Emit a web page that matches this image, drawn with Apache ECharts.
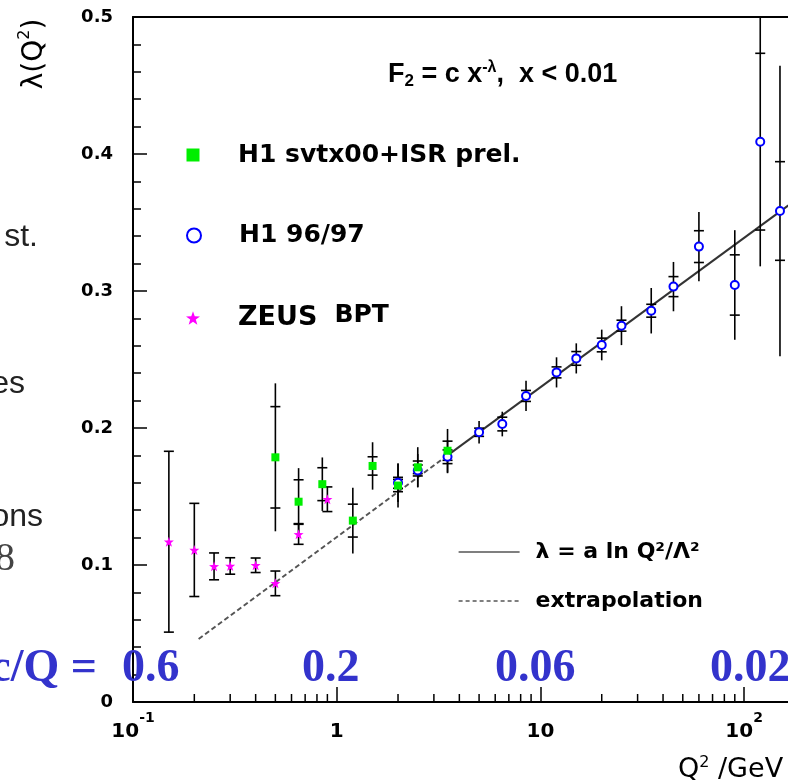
<!DOCTYPE html>
<html><head><meta charset="utf-8">
<script src="https://cdn.jsdelivr.net/npm/echarts@6/dist/echarts.min.js"></script>
<style>html,body{margin:0;padding:0;background:#fff;overflow:hidden}#c{width:788px;height:783px}</style>
</head><body><div id="c"></div>
<script>
// ---------- data ----------
const zeusQ2     = [0.15, 0.2, 0.25, 0.3, 0.4, 0.5, 0.65, 0.9];
const zeusLambda = [0.117, 0.111, 0.099, 0.0993, 0.0998, 0.0866, 0.1224, 0.148];
const zeusErr    = [0.066, 0.034, 0.0098, 0.006, 0.0053, 0.009, 0.0073, 0.009];

const svtxQ2     = [0.5, 0.65, 0.85, 1.2, 1.5, 2.0, 2.5, 3.5];
const svtxLambda = [0.1786, 0.1462, 0.159, 0.1324, 0.1723, 0.158, 0.1713, 0.1834];
const svtxStat   = [0.037, 0.016, 0.012, 0.012, 0.0067, 0.0045, 0.0046, 0.007];
const svtxTot    = [0.054, 0.0245, 0.0195, 0.024, 0.0173, 0.016, 0.0147, 0.0159];

const h1Q2     = [2.0, 2.5, 3.5, 5, 6.5, 8.5, 12, 15, 20, 25, 35, 45, 60, 90, 120, 150];
const h1Lambda = [0.160, 0.169, 0.179, 0.1969, 0.2029, 0.2234, 0.2406, 0.2508, 0.2606, 0.2747, 0.2856, 0.3032, 0.3324, 0.3044, 0.409, 0.3584];
const h1Stat   = [0.004, 0.004, 0.005, 0.003, 0.005, 0.004, 0.004, 0.005, 0.005, 0.004, 0.0047, 0.0073, 0.0116, 0.022, 0.0645, 0.036];
const h1Tot    = [0.014, 0.012, 0.012, 0.0082, 0.009, 0.011, 0.011, 0.011, 0.0112, 0.0142, 0.0166, 0.018, 0.0252, 0.040, 0.091, 0.106];

const fitQ2 = [3.5, 165];
const fitLambda = [0.180, 0.3625];
const extrapQ2 = [0.21, 3.5];
const extrapLambda = [0.046, 0.180];

const xMinorTicks = [0.2,0.3,0.4,0.5,0.6,0.7,0.8,0.9, 2,3,4,5,6,7,8,9, 20,30,40,50,60,70,80,90, 200];
const xLabelText = {'0.1': '{b|10}{s|-1}', '1': '{b|1}', '10': '{b|10}', '100': '{b|10}{s|2}'};

const nameSvtx = 'H1 svtx00+ISR prel.';
const nameH1 = 'H1 96/97';
const nameZeus = 'ZEUS BPT';
const nameFit = 'λ = a ln Q²/Λ²';
const nameExtrap = 'extrapolation';

// ---------- helpers ----------
const zip = (...arrs) => arrs[0].map((_, i) => arrs.map(a => a[i]));
const BLUE_TXT = '#3333cc';
const STAR = 'path://M0,-10L2.35,-3.24L9.51,-3.09L3.8,1.24L5.88,8.09L0,4L-5.88,8.09L-3.8,1.24L-9.51,-3.09L-2.35,-3.24Z';

function h1ErrRender(params, api) {
  const x = api.value(0), y = api.value(1), st = api.value(2), tot = api.value(3);
  const t = api.coord([x, y + tot]), b = api.coord([x, y - tot]);
  const st1 = api.coord([x, y + st]), st2 = api.coord([x, y - st]);
  const hw = 5, style = {stroke: '#000', lineWidth: 1.6};
  return {type: 'group', children: [
    {type: 'line', shape: {x1: t[0], y1: t[1], x2: b[0], y2: b[1]}, style},
    {type: 'line', shape: {x1: st1[0] - hw, y1: st1[1], x2: st1[0] + hw, y2: st1[1]}, style},
    {type: 'line', shape: {x1: st2[0] - hw, y1: st2[1], x2: st2[0] + hw, y2: st2[1]}, style}
  ]};
}
function zeusErrRender(params, api) {
  const x = api.value(0), y = api.value(1), e = api.value(2);
  const t = api.coord([x, y + e]), b = api.coord([x, y - e]);
  const hw = 5, style = {stroke: '#000', lineWidth: 1.6};
  return {type: 'group', children: [
    {type: 'line', shape: {x1: t[0], y1: t[1], x2: b[0], y2: b[1]}, style},
    {type: 'line', shape: {x1: t[0] - hw, y1: t[1], x2: t[0] + hw, y2: t[1]}, style},
    {type: 'line', shape: {x1: b[0] - hw, y1: b[1], x2: b[0] + hw, y2: b[1]}, style}
  ]};
}
function minorTickRender(params, api) {
  const p = api.coord([api.value(0), 0]);
  return {type: 'line', shape: {x1: p[0], y1: p[1], x2: p[0], y2: p[1] - 8}, style: {stroke: '#000', lineWidth: 1.5}};
}

const legTxt = {fontFamily: 'DejaVu Sans', fontWeight: 'bold', fontSize: 25, color: '#000'};

const chart = echarts.init(document.getElementById('c'), null, {renderer: 'canvas'});
chart.setOption({
  animation: false,
  backgroundColor: '#fff',
  grid: {left: 133, top: 17, width: 675, height: 685, containLabel: false, outerBoundsMode: 'none'},
  xAxis: [{
    type: 'log', logBase: 10, min: 0.1, max: 205.9,
    axisLine: {lineStyle: {color: '#000', width: 2}},
    axisTick: {inside: true, length: 15, lineStyle: {color: '#000', width: 1.5}},
    splitLine: {show: false},
    axisLabel: {
      margin: 9, color: '#000', align: 'center',
      formatter: v => { const k = String(+v.toPrecision(6)); return xLabelText[k] || ''; },
      rich: {
        b: {fontFamily: 'DejaVu Sans', fontWeight: 'bold', fontSize: 20, lineHeight: 42, color: '#000'},
        s: {fontFamily: 'DejaVu Sans', fontWeight: 'bold', fontSize: 14, lineHeight: 12, verticalAlign: 'top', color: '#000'}
      }
    }
  }, {
    type: 'log', logBase: 10, min: 0.1, max: 205.9, position: 'top',
    axisLine: {lineStyle: {color: '#000', width: 2}},
    axisTick: {show: false}, axisLabel: {show: false}, splitLine: {show: false}
  }],
  yAxis: {
    type: 'value', min: 0, max: 0.5, interval: 0.1,
    axisLine: {show: true, lineStyle: {color: '#000', width: 2}},
    axisTick: {inside: true, length: 14, lineStyle: {color: '#000', width: 1.5}},
    minorTick: {show: true, splitNumber: 5, length: 8, lineStyle: {color: '#000', width: 1.5}},
    splitLine: {show: false},
    axisLabel: {
      margin: 20, color: '#000', fontFamily: 'DejaVu Sans', fontWeight: 'bold', fontSize: 18,
      formatter: v => v === 0 ? '0' : v.toFixed(1)
    }
  },
  legend: [
    {data: [nameSvtx], left: 186.5, top: 142.5, padding: 0, itemWidth: 13, itemHeight: 13, selectedMode: false,
     textStyle: Object.assign({padding: [0, 0, 0, 33.5]}, legTxt)},
    {data: [nameH1], left: 186, top: 223, padding: 0, itemWidth: 14, itemHeight: 14, selectedMode: false,
     textStyle: Object.assign({padding: [0, 0, 0, 33]}, legTxt)},
    {data: [nameZeus], left: 186, top: 303, padding: 0, itemWidth: 14, itemHeight: 14, selectedMode: false,
     formatter: () => '{z|ZEUS}{g| }{b|BPT}',
     textStyle: {padding: [0, 0, 0, 33], color: '#000',
       rich: {z: {fontFamily: 'DejaVu Sans', fontWeight: 'bold', fontSize: 27, color: '#000', lineHeight: 30},
              g: {fontSize: 10, width: 17, lineHeight: 30},
              b: {fontFamily: 'DejaVu Sans', fontWeight: 'bold', fontSize: 25, color: '#000', lineHeight: 24, verticalAlign: 'top'}}}},
    {data: [nameFit], left: 458, top: 541, padding: 0, itemWidth: 61, itemHeight: 14, selectedMode: false,
     lineStyle: {color: '#000', width: 1.2, type: 'solid'}, itemStyle: {opacity: 0},
     textStyle: Object.assign({padding: [0, 0, 0, 11]}, legTxt, {fontSize: 22})},
    {data: [nameExtrap], left: 458, top: 590, padding: 0, itemWidth: 61, itemHeight: 14, selectedMode: false,
     lineStyle: {color: '#000', width: 1.2, type: [4, 3]}, itemStyle: {opacity: 0},
     textStyle: Object.assign({padding: [0, 0, 0, 11]}, legTxt, {fontSize: 22})}
  ],
  graphic: [
    {type: 'text', left: 388, top: 60, z: 10, style: {
      text: '{n|F}{sub|2}{n| = c x}{sup|-λ}{n|,  x < 0.01}',
      rich: {
        n: {fontFamily: 'Liberation Sans', fontWeight: 'bold', fontSize: 27, lineHeight: 30, fill: '#000'},
        sub: {fontFamily: 'Liberation Sans', fontWeight: 'bold', fontSize: 17, lineHeight: 10, verticalAlign: 'bottom', fill: '#000'},
        sup: {fontFamily: 'Liberation Sans', fontWeight: 'bold', fontSize: 16, lineHeight: 14, verticalAlign: 'top', fill: '#000'}
      }}},
    {type: 'text', x: 35, y: 54, rotation: Math.PI / 2, z: 10, style: {
      text: '{n|λ(Q}{s|2}{n|)}', align: 'center', verticalAlign: 'middle',
      rich: {
        n: {fontFamily: 'DejaVu Sans', fontSize: 28, lineHeight: 36, fill: '#000'},
        s: {fontFamily: 'DejaVu Sans', fontSize: 16, lineHeight: 12, verticalAlign: 'top', fill: '#000'}
      }}},
    {type: 'text', x: 678, y: 770, z: 10, style: {
      text: '{n|Q}{s|2}{n| /GeV}', align: 'left', verticalAlign: 'middle',
      rich: {
        n: {fontFamily: 'DejaVu Sans', fontSize: 27, lineHeight: 30, fill: '#000'},
        s: {fontFamily: 'DejaVu Sans', fontSize: 16, lineHeight: 20, verticalAlign: 'top', fill: '#000'}
      }}},
    // fragments of surrounding slide text
    {type: 'text', x: 38, y: 237, z: 10, style: {text: 'st.', align: 'right', verticalAlign: 'middle', font: '32px "Liberation Sans"', fill: '#222'}},
    {type: 'text', x: 25, y: 384, z: 10, style: {text: 'es', align: 'right', verticalAlign: 'middle', font: '32px "Liberation Sans"', fill: '#222'}},
    {type: 'text', x: 43, y: 517, z: 10, style: {text: 'ons', align: 'right', verticalAlign: 'middle', font: '32px "Liberation Sans"', fill: '#222'}},
    {type: 'text', x: 15, y: 559, z: 10, style: {text: '8', align: 'right', verticalAlign: 'middle', font: '40px "Liberation Serif"', fill: '#444'}},
    // c/Q annotation
    {type: 'text', x: 97, y: 669, z: 10, style: {text: 'c/Q =', align: 'right', verticalAlign: 'middle', font: 'bold 46px "Liberation Serif"', fill: BLUE_TXT}},
    {type: 'text', x: 122, y: 669, z: 10, style: {text: '0.6', align: 'left', verticalAlign: 'middle', font: 'bold 46px "Liberation Serif"', fill: BLUE_TXT}},
    {type: 'text', x: 302, y: 669, z: 10, style: {text: '0.2', align: 'left', verticalAlign: 'middle', font: 'bold 46px "Liberation Serif"', fill: BLUE_TXT}},
    {type: 'text', x: 495, y: 669, z: 10, style: {text: '0.06', align: 'left', verticalAlign: 'middle', font: 'bold 46px "Liberation Serif"', fill: BLUE_TXT}},
    {type: 'text', x: 710, y: 669, z: 10, style: {text: '0.02', align: 'left', verticalAlign: 'middle', font: 'bold 46px "Liberation Serif"', fill: BLUE_TXT}}
  ],
  series: [
    {type: 'custom', name: 'xminor', silent: true, clip: false, data: xMinorTicks.map(v => [v, 0]),
     encode: {x: 0, y: 1}, renderItem: minorTickRender, z: 5},
    {type: 'line', name: nameExtrap, data: zip(extrapQ2, extrapLambda), symbol: 'none', silent: true,
     lineStyle: {color: '#555', width: 2, type: [5, 3]}, z: 1},
    {type: 'line', name: nameFit, data: zip(fitQ2, fitLambda), symbol: 'none', silent: true,
     lineStyle: {color: '#333', width: 2}, z: 1},
    {type: 'custom', name: 'h1err', silent: true, clip: true, data: zip(h1Q2, h1Lambda, h1Stat, h1Tot),
     encode: {x: 0, y: 1}, renderItem: h1ErrRender, z: 2},
    {type: 'custom', name: 'svtxerr', silent: true, clip: true, data: zip(svtxQ2, svtxLambda, svtxStat, svtxTot),
     encode: {x: 0, y: 1}, renderItem: h1ErrRender, z: 2},
    {type: 'custom', name: 'zeuserr', silent: true, clip: true, data: zip(zeusQ2, zeusLambda, zeusErr),
     encode: {x: 0, y: 1}, renderItem: zeusErrRender, z: 2},
    {type: 'scatter', name: nameH1, data: zip(h1Q2, h1Lambda), symbol: 'circle', symbolSize: 8,
     itemStyle: {color: '#fff', borderColor: '#0000ff', borderWidth: 2, opacity: 1}, z: 3},
    {type: 'scatter', name: nameSvtx, data: zip(svtxQ2, svtxLambda), symbol: 'rect', symbolSize: 8,
     itemStyle: {color: '#00ee00', opacity: 1}, z: 4},
    {type: 'scatter', name: nameZeus, data: zip(zeusQ2, zeusLambda), symbol: STAR, symbolSize: 10,
     itemStyle: {color: '#ff00ff', opacity: 1}, z: 4}
  ]
});
</script>
</body></html>
